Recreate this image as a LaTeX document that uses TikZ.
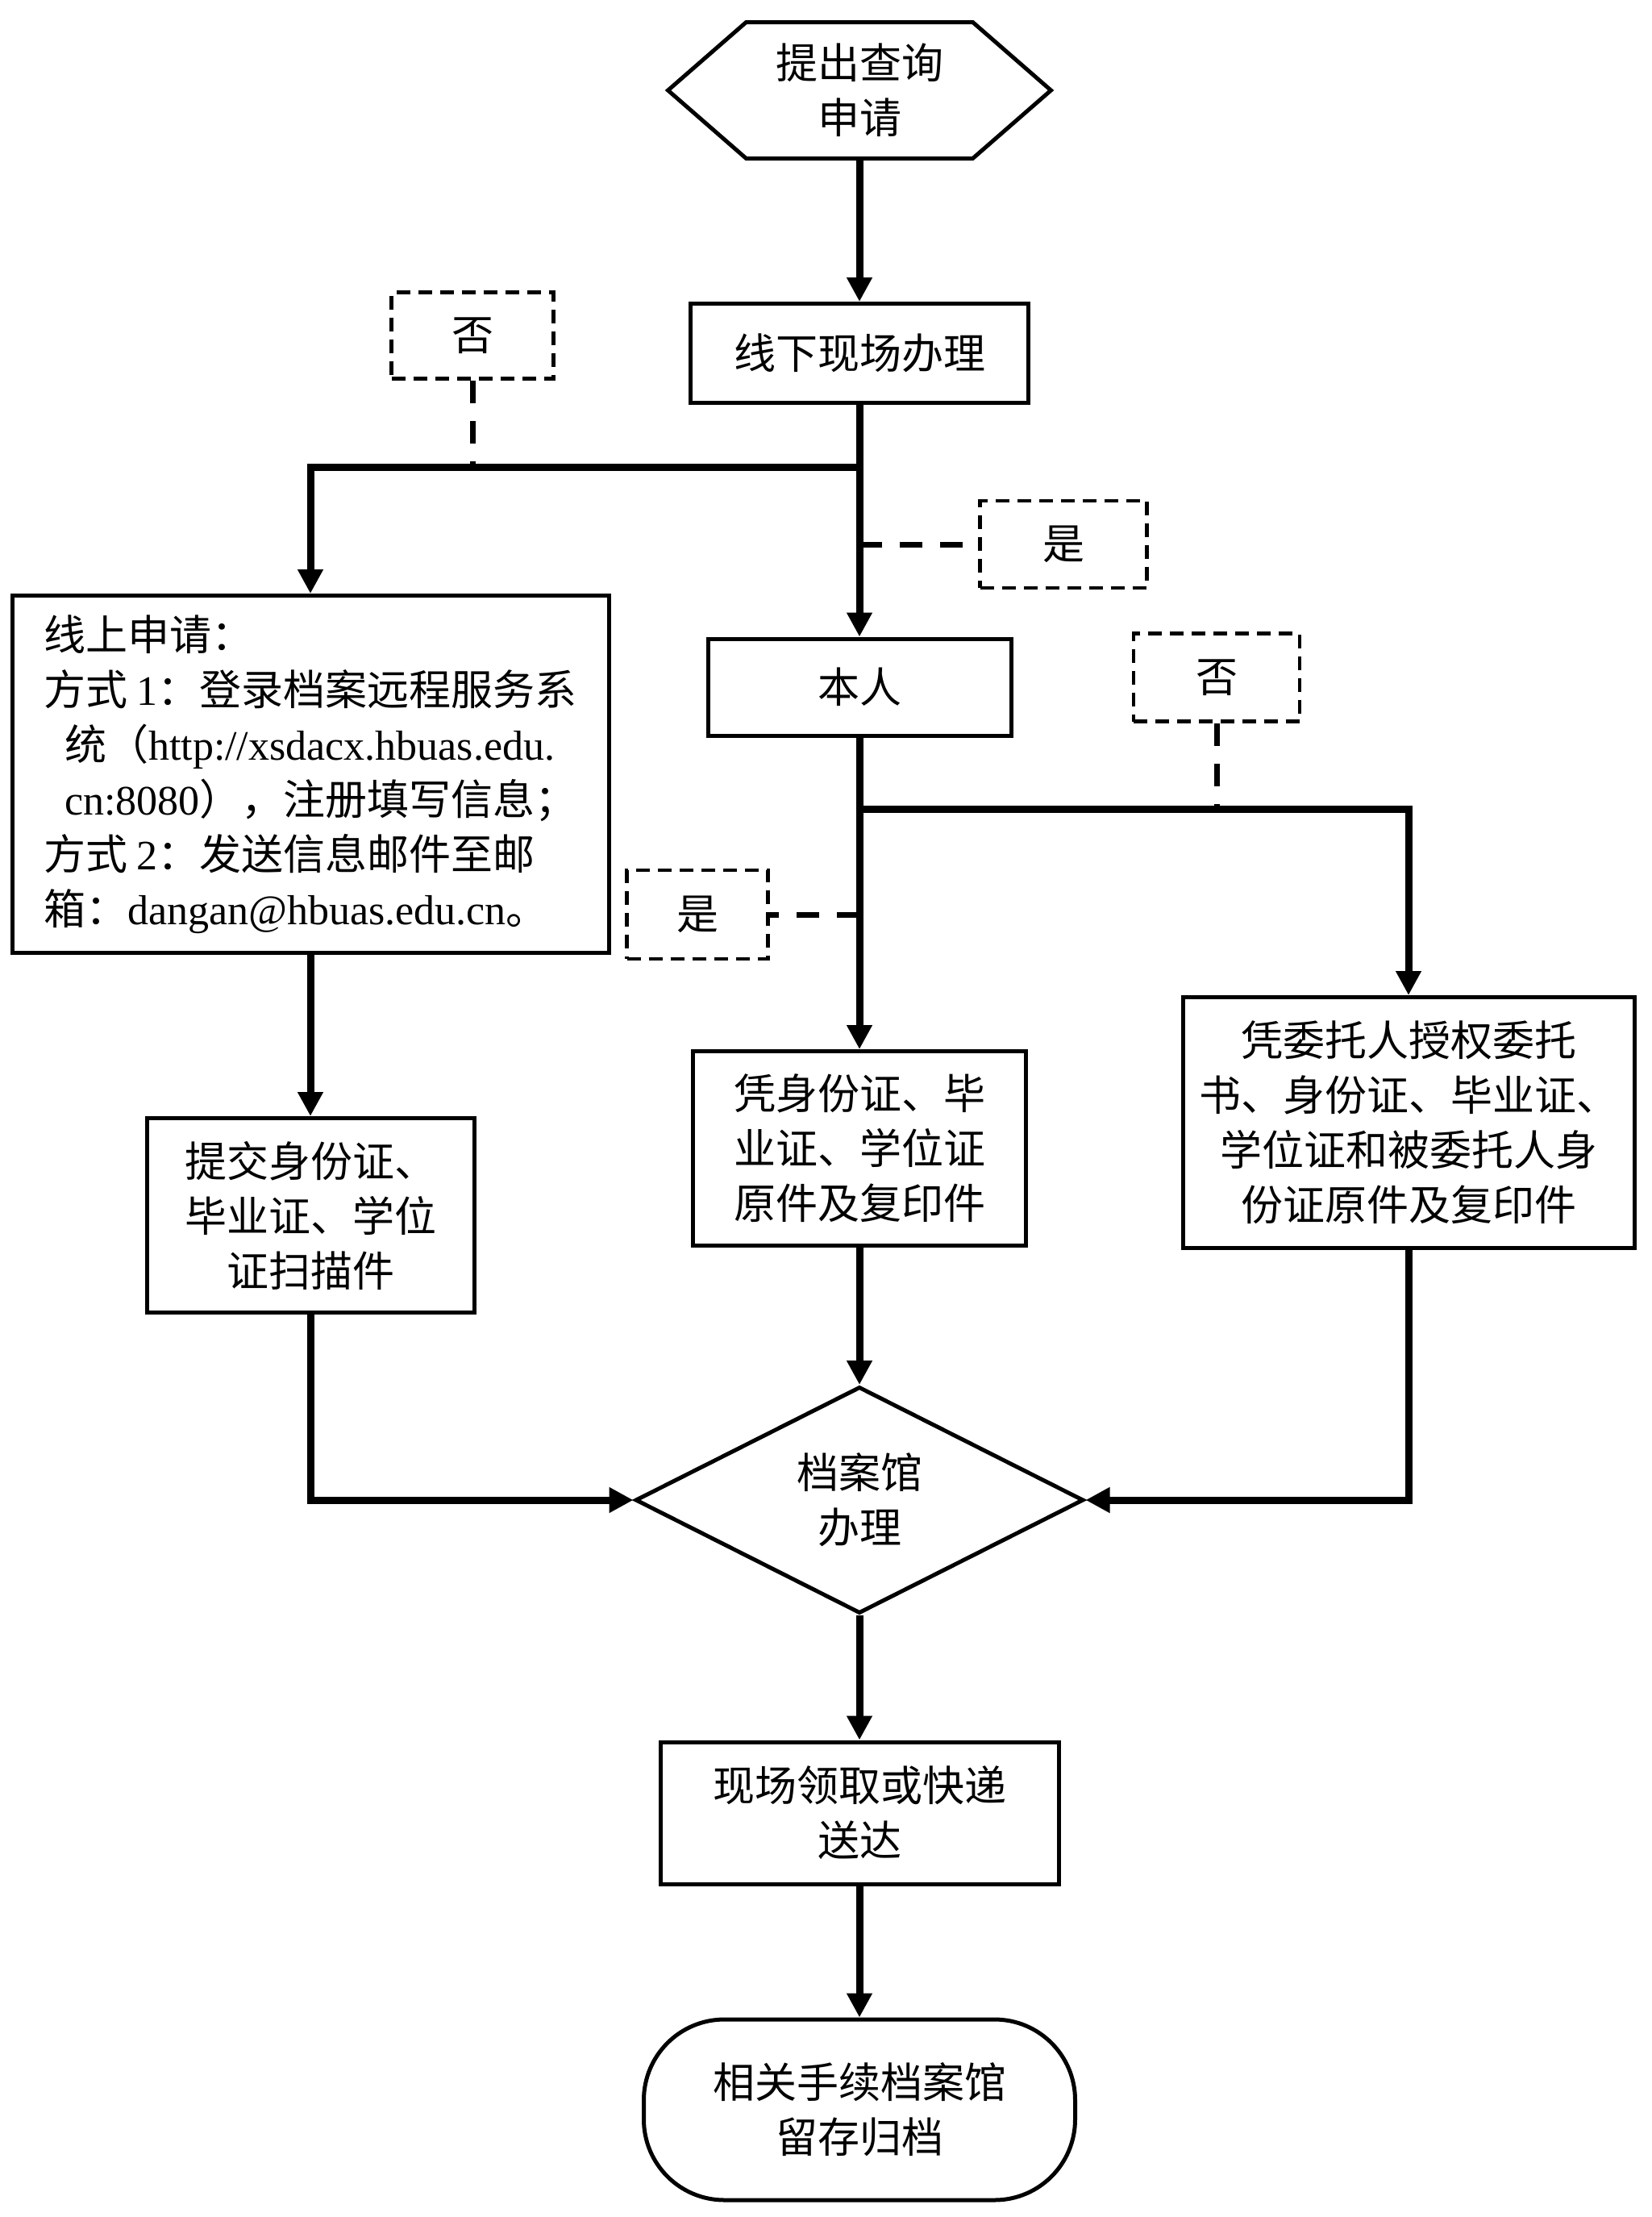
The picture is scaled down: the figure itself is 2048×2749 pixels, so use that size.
\documentclass[tikz,border=0pt]{standalone}
\usepackage{fontspec}
\setmainfont{Liberation Serif}
\newfontfamily\cjk{Noto Sans CJK SC}
\usetikzlibrary{shapes,arrows.meta}

\begin{document}
\begin{tikzpicture}[x=1pt,y=-1pt]
        \tikzstyle{every node}=[font={\fontsize{52pt}{68pt}\cjk}, inner sep=0pt, align=center]
        \tikzstyle{box}=[rectangle, draw, line width=5pt]
        \tikzstyle{choice}=[rectangle, draw, line width=4.5pt, dash pattern=on 17pt off 10pt]
        \tikzstyle{flow}=[line width=9pt, -{Triangle[length=30pt,width=30pt]}]
        \tikzstyle{hint}=[line width=7pt, dash pattern=on 28pt off 22pt]
        \useasboundingbox (0,0) rectangle (2048,2749);

        \node[minimum width=475pt, minimum height=169pt, outer sep=0pt] (start) at (1066,112) {提出查询\\申请};
        \draw[line width=5pt] (start.west) -- ([xshift=97pt]start.north west) -- ([xshift=-97pt]start.north east)
            -- (start.east) -- ([xshift=-97pt]start.south east) -- ([xshift=97pt]start.south west) -- cycle;
        \node[box, minimum width=419pt, minimum height=123pt] (offline) at (1066,438) {线下现场办理};
        \node[choice, minimum width=201pt, minimum height=107pt] (no1) at (586,416) {否};
        \node[box, align=left, minimum width=740pt, minimum height=443pt] (online) at (385,960)
            {线上申请：\\方式 {\rmfamily 1}：登录档案远程服务系\\\hspace*{0.5em}统（{\rmfamily http://xsdacx.hbuas.edu.}\\\hspace*{0.5em}{\rmfamily cn:8080}），注册填写信息；\\方式 {\rmfamily 2}：发送信息邮件至邮\\箱：{\rmfamily dangan@hbuas.edu.cn}。};
        \node[choice, minimum width=207pt, minimum height=108pt] (yes1) at (1319,675) {是};
        \node[box, minimum width=376pt, minimum height=120pt] (self) at (1066,852) {本人};
        \node[choice, minimum width=206pt, minimum height=109pt] (no2) at (1509,840) {否};
        \node[choice, minimum width=175pt, minimum height=110pt] (yes2) at (865,1134) {是};
        \node[box, minimum width=406pt, minimum height=241pt] (scan) at (385,1507) {提交身份证、\\毕业证、学位\\证扫描件};
        \node[box, minimum width=413pt, minimum height=241pt] (personal) at (1066,1424) {凭身份证、毕\\业证、学位证\\原件及复印件};
        \node[box, minimum width=560pt, minimum height=311pt] (proxy) at (1747,1392) {凭委托人授权委托\\书、身份证、毕业证、\\学位证和被委托人身\\份证原件及复印件};
        \node[diamond, draw, line width=5pt, aspect=2, minimum width=556pt, minimum height=281pt] (archive) at (1066,1860) {档案馆\\办理};
        \node[box, minimum width=494pt, minimum height=176pt] (deliver) at (1066,2248) {现场领取或快递\\送达};
        \node[box, rounded corners=100pt, minimum width=535pt, minimum height=224pt] (final) at (1066,2616) {相关手续档案馆\\留存归档};

        \coordinate (j1) at (1066,579);
        \coordinate (j2) at (1066,1003);
        \draw[flow] (start) -- (offline);
        \draw[flow] (offline) -- (self);
        \draw[flow] (j1) -| (online.north);
        \draw[hint] (no1) -- (no1.south |- j1);
        \draw[hint] (j1 |- yes1.west) -- (yes1);
        \draw[flow] (self) -- (personal);
        \draw[flow] (j2) -| (proxy.north);
        \draw[hint] (no2) -- (no2.south |- j2);
        \draw[hint] (j2 |- yes2.east) -- (yes2);
        \draw[flow] (online) -- (scan);
        \draw[flow] (scan.south) |- (archive.west);
        \draw[flow] (proxy.south) |- (archive.east);
        \draw[flow] (personal) -- (archive);
        \draw[flow] (archive) -- (deliver);
        \draw[flow] (deliver) -- (final);
\end{tikzpicture}
\end{document}
